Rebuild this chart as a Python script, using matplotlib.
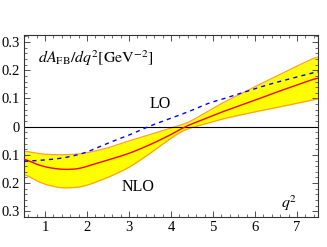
import numpy as np
import matplotlib
matplotlib.use("Agg")
import matplotlib.pyplot as plt
from matplotlib.ticker import MultipleLocator, FixedLocator

# Data
q_nlo = [0.5, 0.7, 1.0, 1.4, 1.8, 2.0, 2.5, 3.0, 3.5, 4.0, 4.33, 4.5, 5.0, 5.17, 6.0, 6.5, 7.0, 7.5]
nlo_c = [-0.112, -0.128, -0.143, -0.152, -0.150, -0.140, -0.118, -0.095, -0.064, -0.028, 0.0, 0.01, 0.04, 0.05, 0.094, 0.122, 0.148, 0.174]
nlo_hi = [-0.085, -0.092, -0.098, -0.100, -0.097, -0.093, -0.075, -0.050, -0.028, -0.004, 0.010, 0.022, 0.065, 0.080, 0.142, 0.178, 0.215, 0.250]
nlo_lo = [-0.165, -0.185, -0.205, -0.218, -0.215, -0.208, -0.180, -0.145, -0.095, -0.040, -0.010, -0.003, 0.018, 0.026, 0.053, 0.067, 0.083, 0.099]

q_lo = [0.5, 0.7, 1.0, 1.4, 1.8, 2.0, 2.55, 3.0, 3.45, 4.0, 4.5, 4.93, 5.17, 5.7, 6.0, 6.5, 7.0, 7.5]
lo = [-0.123, -0.121, -0.118, -0.112, -0.099, -0.090, -0.055, -0.030, 0.0, 0.030, 0.058, 0.086, 0.095, 0.121, 0.135, 0.157, 0.176, 0.196]

xticks = [1, 2, 3, 4, 5, 6, 7]
yticks = [-0.3, -0.2, -0.1, 0, 0.1, 0.2, 0.3]
# the reference shows the negative labels with their minus sign cut off at the figure edge
ytick_labels = ["0.3", "0.2", "0.1", "0", "0.1", "0.2", "0.3"]

plt.rcParams['font.family'] = ['Liberation Serif', 'DejaVu Serif']
plt.rcParams['mathtext.fontset'] = 'stix'

fig = plt.figure(figsize=(3.27, 2.47), dpi=100)
ax = fig.add_axes([24/327, 1-217/247, (318-24)/327, (217-35)/247])

qq = np.linspace(0.5, 7.5, 300)
def smooth(x, y):
    yy = np.interp(qq, x, y)
    k = 15
    pad = np.pad(yy, k//2, mode='edge')
    return np.convolve(pad, np.ones(k)/k, mode='valid')

c = smooth(q_nlo, nlo_c)
hi = smooth(q_nlo, nlo_hi)
lw_ = smooth(q_nlo, nlo_lo)
l0 = smooth(q_lo, lo)

ax.fill_between(qq, lw_, hi, color='#FFFF00', lw=0, zorder=1)
ax.plot(qq, hi, color='#FFA020', lw=0.9, zorder=2)
ax.plot(qq, lw_, color='#FFA020', lw=0.9, zorder=2)
ax.plot(qq, c, color='#FF0000', lw=1.0, zorder=3)
ax.plot(qq, l0, color='#0000FF', lw=1.0, dashes=(3, 3), zorder=4)
ax.axhline(0, color='black', lw=0.8, zorder=2.5)

ax.set_xlim(0.5, 7.5)
ax.set_ylim(-0.32, 0.325)
ax.xaxis.set_major_locator(FixedLocator(xticks))
ax.xaxis.set_minor_locator(MultipleLocator(0.2))
ax.yaxis.set_major_locator(FixedLocator(yticks))
ax.set_yticklabels(ytick_labels)
ax.yaxis.set_minor_locator(MultipleLocator(0.02))
ax.tick_params(which='both', direction='in', top=True, right=True, labelsize=10.5, colors='#333333', labelcolor='black')
ax.tick_params(which='major', length=4, width=0.6, pad=3)
ax.tick_params(which='minor', length=2, width=0.5)
ax.tick_params(axis='y', which='major', pad=3)
for s in ax.spines.values():
    s.set_linewidth(0.8)
    s.set_color('#333333')

def fig_text(x, y, s, **kw):
    fig.text(x/327, 1-y/247, s, **kw)

fig_text(38, 58, r'$dA_{\rm FB}/dq^2[{\rm GeV}^{-2}]$', fontsize=11.5, va='center', ha='left')
fig_text(160, 104, 'LO', fontsize=11.5, va='center', ha='center')
fig_text(138, 187, 'NLO', fontsize=11.5, va='center', ha='center')
fig_text(289, 203, r'$q^2$', fontsize=11.5, va='center', ha='center')

fig.savefig('out.png', dpi=100)
